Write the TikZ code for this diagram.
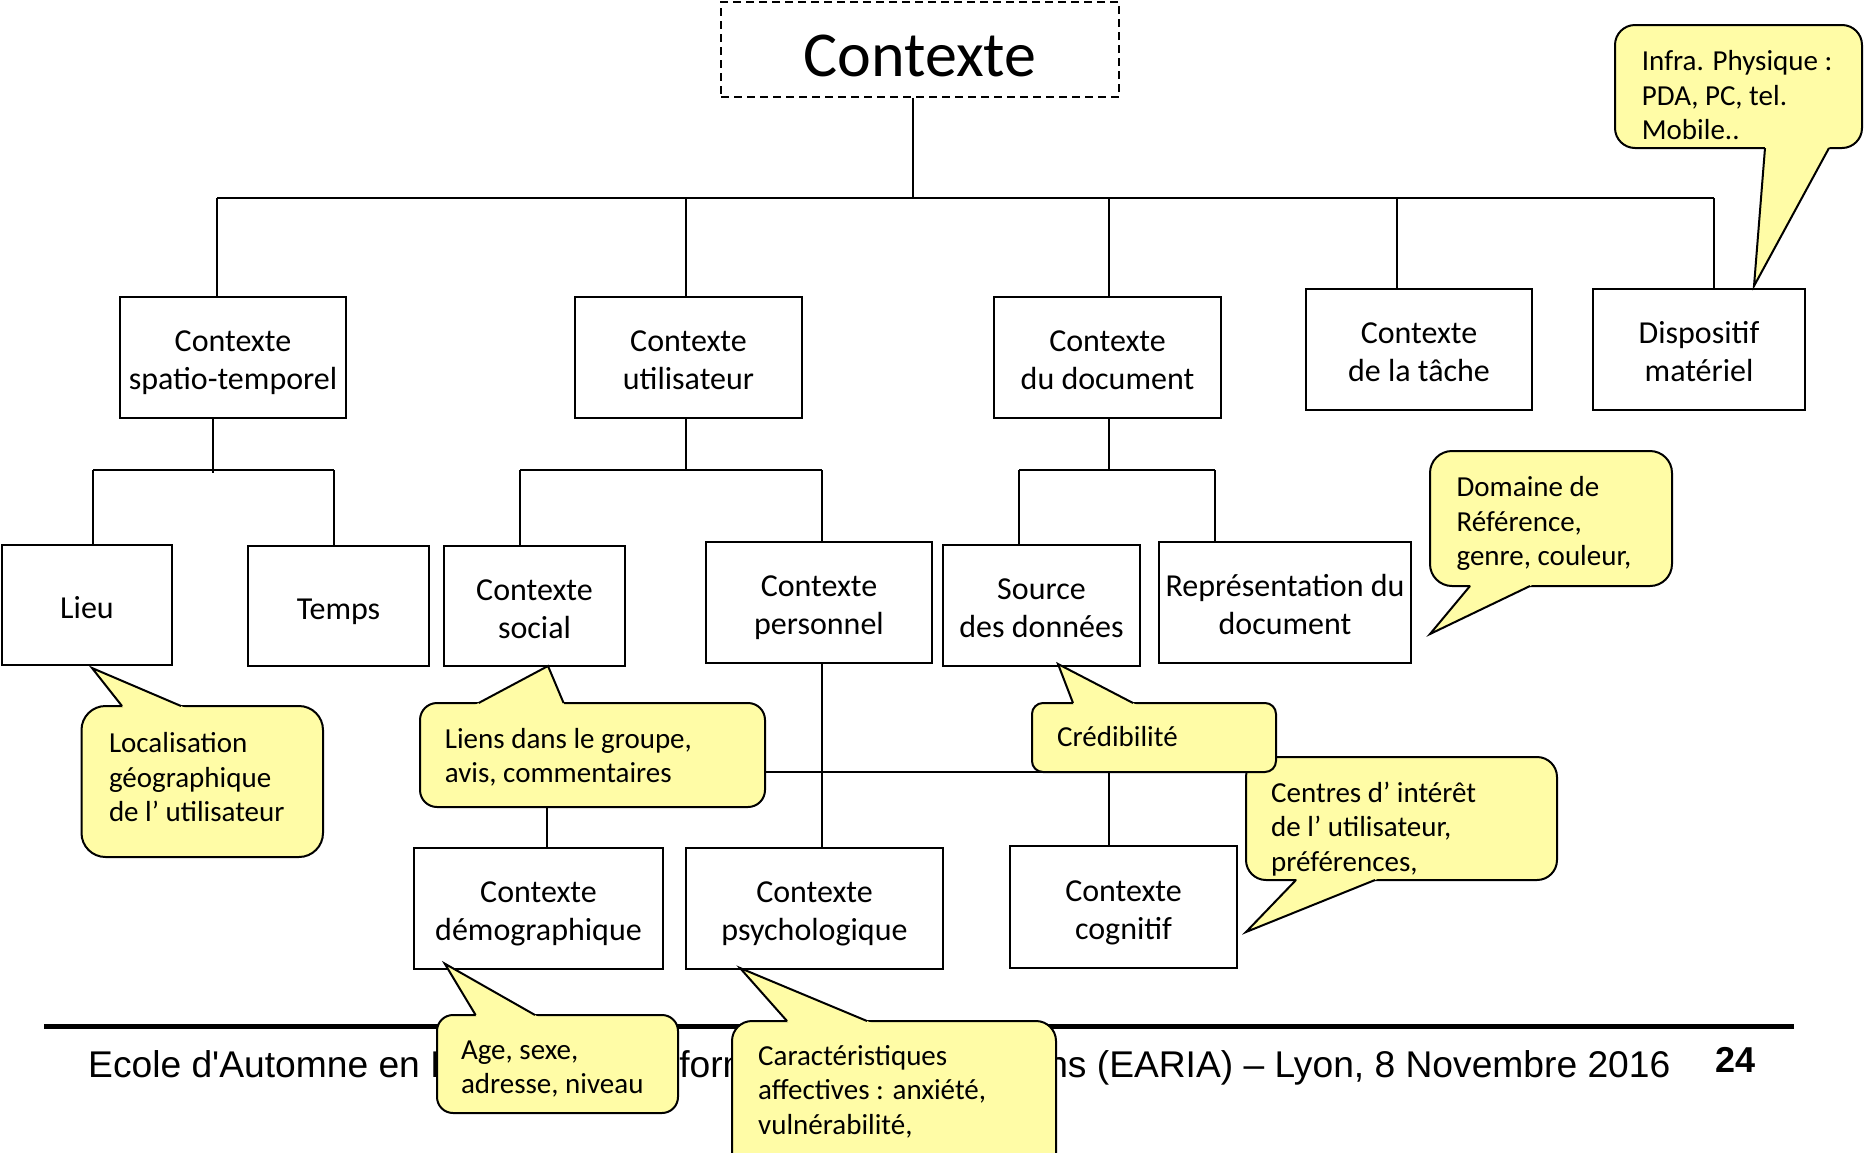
\documentclass[tikz,border=0pt]{standalone}
\usepackage{fontspec}
\setmainfont{Carlito}
\newfontfamily\footfont{Liberation Sans}
\usetikzlibrary{calc}

\definecolor{bulle}{RGB}{255,252,166}

% text settings: boxes, yellow notes
\newcommand\boxfont{\fontsize{32pt}{38pt}\selectfont}
\newcommand\notefont{\fontsize{29pt}{34.5pt}\selectfont}
\newcommand\bst{\rule[-6pt]{0pt}{38pt}}
\newcommand\nst{\rule[-8.5pt]{0pt}{34.5pt}}

% rectangular box given by its corners (x1,y1) (x2,y2)
\newcommand\mkbox[6]{%
  \node[box, minimum width={(#4)-(#2)}, minimum height={(#5)-(#3)}]
    (#1) at ({((#2)+(#4))/2},{((#3)+(#5))/2}) {#6};}

% pointer of a speech bubble: base point, tip, base point
\newcommand\tail[3]{%
  \fill[bulle] ($(#2)!1.25!(#1)$) -- (#2) -- ($(#2)!1.25!(#3)$) -- cycle;
  \draw[line width=2pt, line join=miter] (#1) -- (#2) -- (#3);}

\tikzset{
  conn/.style={line width=2pt},
  box/.style={draw, line width=2pt, fill=white, inner sep=0pt, align=center, font=\boxfont},
  bubble/.style={draw, line width=2pt, fill=bulle},
  note/.style={inner sep=0pt, align=left, anchor=north west, font=\notefont},
}

\begin{document}
\begin{tikzpicture}[x=1pt, y=-1pt]
\useasboundingbox (0,0) rectangle (1864,1152);
\clip (0,0) rectangle (1864,1152);

% ---------- root ----------
\node[draw, dash pattern=on 8pt off 5pt, line width=2pt, fill=white, inner sep=0pt,
      minimum width=398pt, minimum height=95pt, text height=64pt, text depth=11pt,
      font=\fontsize{64pt}{76pt}\selectfont] (root) at (920,49.5) {Contexte};

% ---------- boxes ----------
\mkbox{st}{120}{297}{346}{418}{Contexte\bst\\spatio-temporel\bst}
\mkbox{ut}{575}{297}{802}{418}{Contexte\bst\\utilisateur\bst}
\mkbox{doc}{994}{297}{1221}{418}{Contexte\bst\\du document\bst}
\mkbox{tache}{1306}{289}{1532}{410}{Contexte\bst\\de la tâche\bst}
\mkbox{disp}{1593}{289}{1805}{410}{Dispositif\bst\\matériel\bst}

\mkbox{lieu}{2}{545}{172}{665}{Lieu\bst}
\mkbox{temps}{248}{546}{429}{666}{Temps\bst}
\mkbox{social}{444}{546}{625}{666}{Contexte\bst\\social\bst}
\mkbox{perso}{706}{542}{932}{663}{Contexte\bst\\personnel\bst}
\mkbox{source}{943}{545}{1140}{666}{Source\bst\\des données\bst}
\mkbox{repr}{1159}{542}{1411}{663}{Représentation du\bst\\document\bst}

\mkbox{demo}{414}{848}{663}{969}{Contexte\bst\\démographique\bst}
\mkbox{psycho}{686}{848}{943}{969}{Contexte\bst\\psychologique\bst}
\mkbox{cogn}{1010}{846}{1237}{968}{Contexte\bst\\cognitif\bst}

% ---------- tree connectors ----------
\coordinate (hub) at (913,198);
\coordinate (b1) at (217,198);
\coordinate (b2) at (686,198);
\coordinate (b3) at (1109,198);
\coordinate (b4) at (1397,198);
\coordinate (b5) at (1714,198);
\draw[conn] (hub |- root.south) -- (hub);
\draw[conn] (b1) -- (b5);
\draw[conn] (b1) -- (b1 |- st.north);
\draw[conn] (b2) -- (b2 |- ut.north);
\draw[conn] (b3) -- (b3 |- doc.north);
\draw[conn] (b4) -- (b4 |- tache.north);
\draw[conn] (b5) -- (b5 |- disp.north);

\coordinate (st-j) at (213,470);
\coordinate (st-l) at (93,470);
\coordinate (st-r) at (334,470);
\draw[conn] (st-j |- st.south) -- ($(st-j)+(0,3)$);
\draw[conn] (st-l) -- (st-r);
\draw[conn] (st-l) -- (st-l |- lieu.north);
\draw[conn] (st-r) -- (st-r |- temps.north);

\coordinate (ut-j) at (686,470);
\coordinate (ut-l) at (520,470);
\coordinate (ut-r) at (822,470);
\draw[conn] (ut-j |- ut.south) -- (ut-j);
\draw[conn] (ut-l) -- (ut-r);
\draw[conn] (ut-l) -- (ut-l |- social.north);
\draw[conn] (ut-r) -- (ut-r |- perso.north);

\coordinate (doc-j) at (1109,470);
\coordinate (doc-l) at (1019,470);
\coordinate (doc-r) at (1215,470);
\draw[conn] (doc-j |- doc.south) -- (doc-j);
\draw[conn] (doc-l) -- (doc-r);
\draw[conn] (doc-l) -- (doc-l |- source.north);
\draw[conn] (doc-r) -- (doc-r |- repr.north);

\coordinate (pj) at (822,772);
\coordinate (lb-l) at (547,772);
\coordinate (lb-r) at (1109,772);
\draw[conn] (pj |- perso.south) -- (pj |- psycho.north);
\draw[conn] (lb-l) -- (lb-r);
\draw[conn] (lb-l) -- (lb-l |- demo.north);
\draw[conn] (lb-r) -- (lb-r |- cogn.north);

% ---------- footer ----------
\draw[line width=5pt] (44,1026) -- (1794,1026);
\node[anchor=base west, inner sep=0pt, font=\footfont\fontsize{37.2pt}{44pt}\selectfont]
  (foot) at (88,1077.5) {Ecole d\textquotesingle Automne en Recherche d\textquotesingle Information et Applications (EARIA) – Lyon, 8 Novembre 2016};
\node[anchor=base west, inner sep=0pt, font=\footfont\bfseries\fontsize{36pt}{43pt}\selectfont]
  (page) at (1715.6,1072) {24};

% ---------- speech bubbles ----------
% localisation
\draw[bubble, rounded corners=24pt] (81.5,706) rectangle (323,857);
\coordinate (loc-a) at (122,706); \coordinate (loc-t) at (92,668); \coordinate (loc-b) at (181,706);
\tail{loc-a}{loc-t}{loc-b}
\node[note] (loc) at (108.8,726.3) {Localisation\nst\\géographique\nst\\de l’ utilisateur\nst};

% liens sociaux
\draw[bubble, rounded corners=17pt] (420,703) rectangle (765,807);
\coordinate (lie-a) at (478.6,703); \coordinate (lie-t) at (548,666); \coordinate (lie-b) at (563.6,703);
\tail{lie-a}{lie-t}{lie-b}
\node[note] (liens) at (444.7,722) {Liens dans le groupe,\nst\\avis, commentaires\nst};

% age
\draw[bubble, rounded corners=16pt] (437,1015) rectangle (678,1113);
\coordinate (age-a) at (475.6,1015); \coordinate (age-t) at (444.7,963.6); \coordinate (age-b) at (535,1015);
\tail{age-a}{age-t}{age-b}
\node[note] (age) at (460.8,1033) {Age, sexe,\nst\\adresse, niveau\nst};

% caracteristiques
\draw[bubble, rounded corners=20pt] (732,1021) rectangle (1056,1200);
\coordinate (car-a) at (787,1021); \coordinate (car-t) at (740,968); \coordinate (car-b) at (867,1021);
\tail{car-a}{car-t}{car-b}
\node[note] (cara) at (758,1039) {Caractéristiques\nst\\affectives : anxiété,\nst\\vulnérabilité,\nst};

% centres d'interet
\draw[bubble, rounded corners=20pt] (1246,757) rectangle (1557,880);
\coordinate (cen-a) at (1296,880); \coordinate (cen-t) at (1246,932); \coordinate (cen-b) at (1375,880);
\tail{cen-a}{cen-t}{cen-b}
\node[note] (centres) at (1271,776) {Centres d’ intérêt\nst\\de l’ utilisateur,\nst\\préférences,\nst};

% credibilite
\draw[bubble, rounded corners=11pt] (1032,703) rectangle (1276,772);
\coordinate (cre-a) at (1073,703); \coordinate (cre-t) at (1058,664); \coordinate (cre-b) at (1133,703);
\tail{cre-a}{cre-t}{cre-b}
\node[note] (cred) at (1057,720) {Crédibilité\nst};

% domaine
\draw[bubble, rounded corners=22pt] (1430,451) rectangle (1672,586);
\coordinate (dom-a) at (1470,586); \coordinate (dom-t) at (1430,634); \coordinate (dom-b) at (1530,586);
\tail{dom-a}{dom-t}{dom-b}
\node[note] (dom) at (1456.4,470.7) {Domaine de\nst\\Référence,\nst\\genre, couleur,\nst};

% infrastructure physique
\draw[bubble, rounded corners=20pt] (1615,25) rectangle (1862,148);
\coordinate (inf-a) at (1765,148); \coordinate (inf-t) at (1754,286); \coordinate (inf-b) at (1829,148);
\tail{inf-a}{inf-t}{inf-b}
\node[note] (infra) at (1641.7,44.7) {Infra. Physique :\nst\\PDA, PC, tel.\nst\\Mobile..\nst};

\end{tikzpicture}
\end{document}
